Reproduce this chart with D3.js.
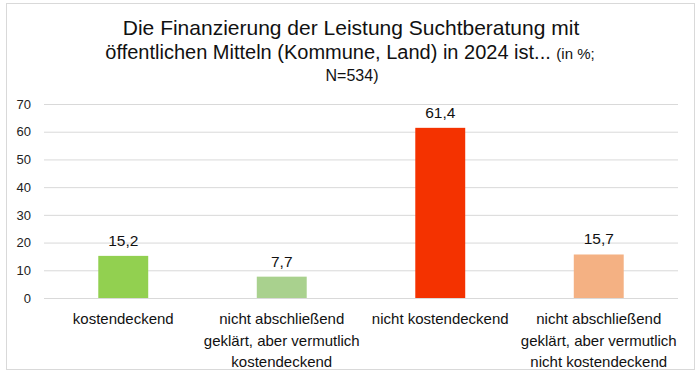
<!DOCTYPE html>
<html lang="de">
<head>
<meta charset="UTF-8">
<script src="https://d3js.org/d3.v7.min.js"></script>
<style>
  * { margin: 0; padding: 0; }
  body { background: #fff; width: 700px; height: 374px; overflow: hidden; font-family: Arial, 'Liberation Sans', sans-serif; }
  svg { display: block; }
</style>
</head>
<body>
<svg id="chart"></svg>
<script>
const categories = [
  ['kostendeckend'],
  ['nicht abschließend', 'geklärt, aber vermutlich', 'kostendeckend'],
  ['nicht kostendeckend'],
  ['nicht abschließend', 'geklärt, aber vermutlich', 'nicht kostendeckend']
];
const values = [15.2, 7.7, 61.4, 15.7];
const colors = ['#92d050', '#a9d18e', '#f43200', '#f4b183'];
const yTicks = [0, 10, 20, 30, 40, 50, 60, 70];

const W = 700, H = 374;
const M = { left: 44, right: 22, top: 104, bottom: 76 };
const svg = d3.select('#chart').attr('width', W).attr('height', H);

// Rahmen
svg.append('rect')
  .attr('x', 6.5).attr('y', 3.5).attr('width', 688).attr('height', 366)
  .attr('fill', '#fff').attr('stroke', '#d9d9d9').attr('stroke-width', 1);

// Titel
const title = svg.append('text').attr('text-anchor', 'middle').attr('fill', '#111');
title.append('tspan').attr('x', 351).attr('y', 35).attr('font-size', 21)
  .text('Die Finanzierung der Leistung Suchtberatung mit');
const t2 = title.append('tspan').attr('x', 350).attr('y', 59);
t2.append('tspan').attr('font-size', 20).text('öffentlichen Mitteln (Kommune, Land) in 2024 ist... ');
t2.append('tspan').attr('font-size', 15).text('(in %;');
title.append('tspan').attr('x', 352).attr('y', 81).attr('font-size', 16).text('N=534)');

const x = d3.scaleBand()
  .domain(d3.range(categories.length))
  .range([M.left, W - M.right])
  .paddingInner(0.685).paddingOuter(0.3425);

const y = d3.scaleLinear().domain([0, 70]).range([H - M.bottom, M.top]);

// Gitterlinien
svg.append('g')
  .attr('transform', `translate(${M.left},0)`)
  .call(d3.axisLeft(y).tickValues(yTicks).tickSize(-(W - M.right - M.left)).tickPadding(13))
  .call(g => g.select('.domain').remove())
  .call(g => g.selectAll('.tick line').attr('stroke', '#d9d9d9'))
  .call(g => g.selectAll('.tick text').attr('font-size', 13).attr('fill', '#222')
    .attr('font-family', 'Arial, Liberation Sans, sans-serif'));

// Balken
svg.append('g').selectAll('rect')
  .data(values)
  .join('rect')
  .attr('x', (d, i) => x(i))
  .attr('y', d => y(d))
  .attr('width', x.bandwidth())
  .attr('height', d => y(0) - y(d))
  .attr('fill', (d, i) => colors[i]);

// Werte
svg.append('g').selectAll('text')
  .data(values)
  .join('text')
  .attr('x', (d, i) => x(i) + x.bandwidth() / 2)
  .attr('y', d => y(d) - 10)
  .attr('text-anchor', 'middle')
  .attr('font-size', 15.5)
  .attr('fill', '#111')
  .text(d => d.toFixed(1).replace('.', ','));

// Kategorien
const lab = svg.append('g').selectAll('text')
  .data(categories)
  .join('text')
  .attr('text-anchor', 'middle')
  .attr('font-size', 15)
  .attr('fill', '#111');
lab.each(function(lines, i) {
  const t = d3.select(this);
  lines.forEach((l, k) => {
    t.append('tspan')
      .attr('x', x(i) + x.bandwidth() / 2)
      .attr('y', y(0) + 26 + k * 21.5)
      .text(l);
  });
});
</script>
</body>
</html>
